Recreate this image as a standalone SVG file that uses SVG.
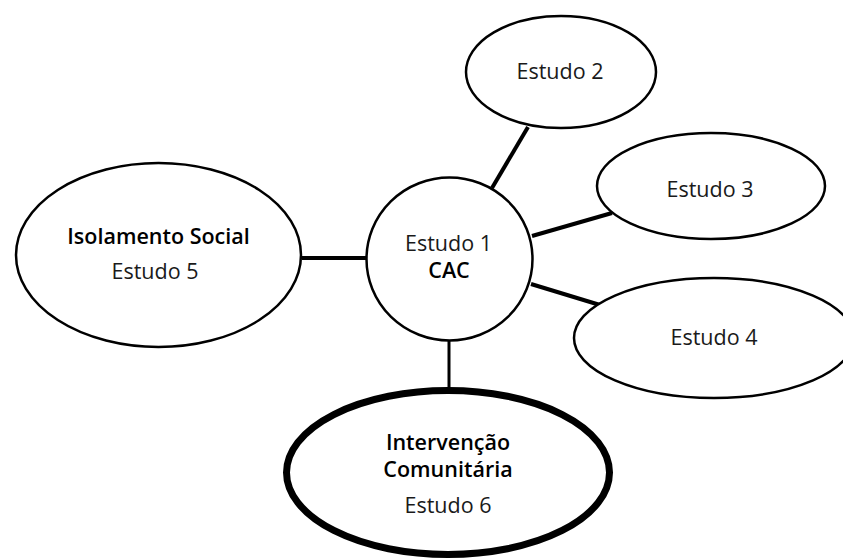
<svg xmlns="http://www.w3.org/2000/svg" width="843" height="559" viewBox="0 0 843 559">
<style>
.n{fill:#fff;stroke:#000;stroke-width:2.5}
.thick{fill:#fff;stroke:#000;stroke-width:7}
.c{stroke:#000;stroke-width:4;fill:none}
.t{font-family:"Open Sans","Liberation Sans",sans-serif;font-size:21.5px;fill:#1a1a1a;text-anchor:middle}
.b{font-weight:600;fill:#000}
</style>
<rect width="843" height="559" fill="#fff"/>
<g id="connectors">
<line class="c" x1="492" y1="188" x2="528" y2="127"/>
<line class="c" x1="532" y1="236" x2="612" y2="213"/>
<line class="c" x1="531" y1="284" x2="600" y2="305"/>
<line class="c" x1="302" y1="258" x2="366" y2="258"/>
<line class="c" x1="449" y1="341" x2="449" y2="388" style="stroke-width:3"/>
</g>
<g id="estudo2">
<ellipse class="n" cx="561" cy="72" rx="95" ry="56"/>
<text class="t" x="560" y="79">Estudo 2</text>
</g>
<g id="estudo3">
<ellipse class="n" cx="711" cy="186" rx="114" ry="53"/>
<text class="t" x="710" y="197">Estudo 3</text>
</g>
<g id="estudo4">
<ellipse class="n" cx="714" cy="338" rx="140" ry="60"/>
<text class="t" x="714" y="345">Estudo 4</text>
</g>
<g id="estudo5">
<ellipse class="n" cx="158.5" cy="255" rx="142.5" ry="92"/>
<text class="t b" x="158.5" y="244">Isolamento Social</text>
<text class="t" x="155" y="279">Estudo 5</text>
</g>
<g id="estudo1">
<ellipse class="n" cx="449.5" cy="259" rx="83" ry="81.5"/>
<text class="t" x="448.5" y="251">Estudo 1</text>
<text class="t b" x="449" y="278">CAC</text>
</g>
<g id="estudo6">
<ellipse class="thick" cx="448" cy="472.5" rx="161.5" ry="82"/>
<text class="t b" x="448" y="450">Intervenção</text>
<text class="t b" x="448" y="477">Comunitária</text>
<text class="t" x="448" y="513">Estudo 6</text>
</g>
</svg>
